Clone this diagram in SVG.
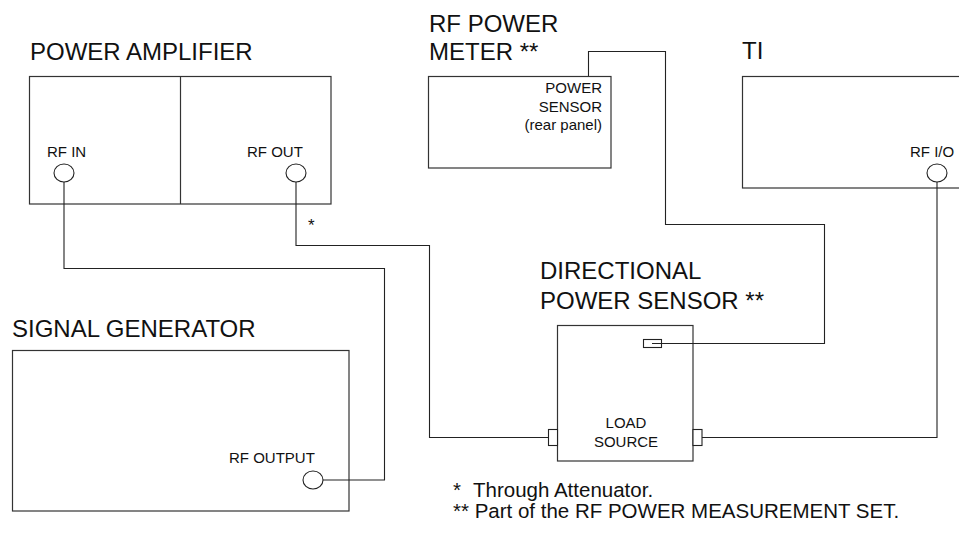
<svg xmlns="http://www.w3.org/2000/svg" width="959" height="533" viewBox="0 0 959 533">
<style>
  .box { fill: #fff; stroke: #333; stroke-width: 1.2; }
  .port { fill: #fff; stroke: #222; stroke-width: 1.1; }
  .wire { fill: none; stroke: #222; stroke-width: 1.1; }
  .title { font-family: "Liberation Sans", Arial, sans-serif; font-size: 24px; fill: #111; }
  .lbl { font-family: "Liberation Sans", Arial, sans-serif; font-size: 15px; fill: #111; }
  .star { font-family: "Liberation Sans", Arial, sans-serif; font-size: 17px; fill: #111; }
  .note { font-family: "Liberation Sans", Arial, sans-serif; font-size: 20.5px; fill: #111; }
</style>
<rect width="959" height="533" fill="#fff"/>

<g id="power-amplifier">
  <text class="title" x="30" y="60">POWER AMPLIFIER</text>
  <rect class="box" x="29.5" y="76.5" width="301.5" height="127.5"/>
  <line class="box" x1="180.5" y1="76.5" x2="180.5" y2="204"/>
  <text class="lbl" x="47" y="157">RF IN</text>
  <ellipse class="port" cx="64" cy="173" rx="10" ry="9"/>
  <text class="lbl" x="247" y="157">RF OUT</text>
  <ellipse class="port" cx="296" cy="173" rx="10" ry="9"/>
  <text class="star" x="308" y="231">*</text>
</g>

<g id="rf-power-meter">
  <text class="title" x="429" y="32">RF POWER</text>
  <text class="title" x="429" y="60">METER **</text>
  <rect class="box" x="428.5" y="76.5" width="182.5" height="91.5"/>
  <text class="lbl" text-anchor="end" x="602" y="93">POWER</text>
  <text class="lbl" text-anchor="end" x="602" y="112">SENSOR</text>
  <text class="lbl" text-anchor="end" x="602" y="130">(rear panel)</text>
</g>

<g id="ti">
  <text class="title" x="742" y="59">TI</text>
  <rect class="box" x="742.5" y="76.5" width="230" height="111.5"/>
  <text class="lbl" x="910" y="157">RF I/O</text>
  <ellipse class="port" cx="937" cy="173" rx="10" ry="9"/>
</g>

<g id="signal-generator">
  <text class="title" x="12" y="337">SIGNAL GENERATOR</text>
  <rect class="box" x="12.5" y="350.5" width="336.5" height="160.5"/>
  <text class="lbl" x="229" y="463">RF OUTPUT</text>
  <ellipse class="port" cx="313" cy="480" rx="10" ry="9"/>
</g>

<g id="directional-power-sensor">
  <text class="title" x="540" y="279">DIRECTIONAL</text>
  <text class="title" x="540" y="309">POWER SENSOR **</text>
  <rect class="box" x="557.5" y="325.5" width="135.5" height="135.5"/>
  <rect class="port" x="643.5" y="339.5" width="18" height="8"/>
  <rect class="port" x="548.5" y="429.5" width="9" height="16"/>
  <rect class="port" x="693" y="429.5" width="9" height="16"/>
  <text class="lbl" text-anchor="middle" x="626" y="428">LOAD</text>
  <text class="lbl" text-anchor="middle" x="626" y="447">SOURCE</text>
</g>

<g id="connectors">
  <polyline class="wire" points="64,182 64,268.5 384.5,268.5 384.5,480 323,480"/>
  <polyline class="wire" points="296,182 296,245.5 429.5,245.5 429.5,437.5 548.5,437.5"/>
  <polyline class="wire" points="588.5,76 588.5,51.5 665.5,51.5 665.5,224.5 824.5,224.5 824.5,343.5 652,343.5"/>
  <polyline class="wire" points="937,182 937,437.5 702,437.5"/>
</g>

<g id="footnotes">
  <text class="note" x="453" y="497">*</text>
  <text class="note" x="473" y="497">Through Attenuator.</text>
  <text class="note" x="453" y="518">** Part of the RF POWER MEASUREMENT SET.</text>
</g>
</svg>
